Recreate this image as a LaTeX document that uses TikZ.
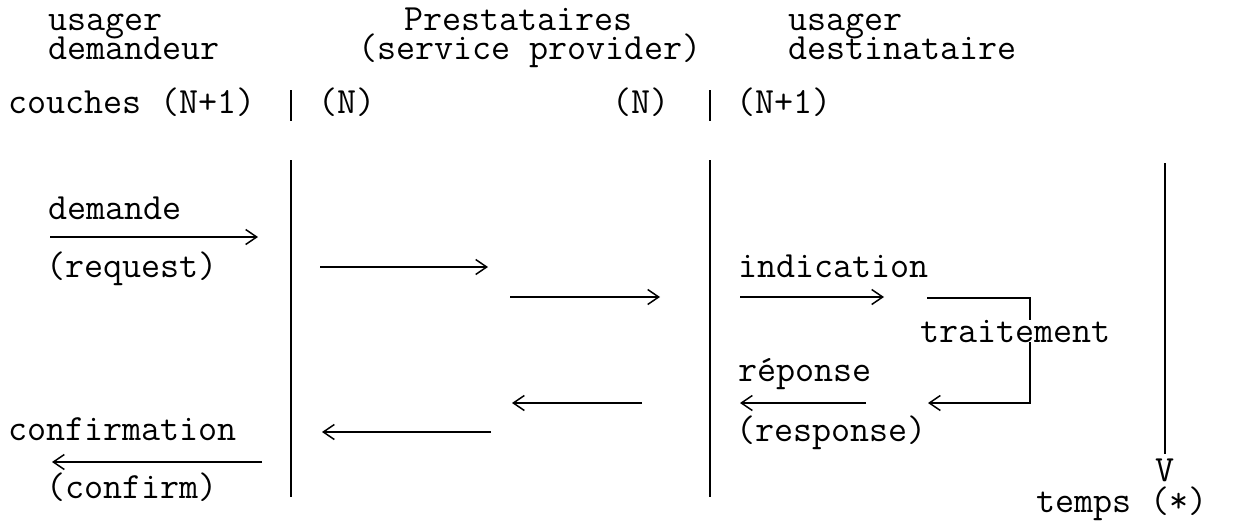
\documentclass[tikz,border=0pt]{standalone}
\usetikzlibrary{arrows.meta}
\begin{document}
\begin{tikzpicture}[x=1pt,y=-1pt,
  txt/.style={anchor=base west,inner sep=0pt,font=\ttfamily\fontsize{37}{40}\selectfont},
  ln/.style={line width=1.7pt},
  arr/.style={line width=1.4pt,-{Straight Barb[length=11pt,width=15pt,line width=1.5pt]}}]
\useasboundingbox (0,0) rectangle (1245,525);
% headers
\node[txt] (u1) at (48,30) {usager};
\node[txt] (u2) at (48,59) {demandeur};
\node[txt] (p1) at (404,30) {Prestataires};
\node[txt] (p2) at (358,59) {(service provider)};
\node[txt] (d1) at (788,30) {usager};
\node[txt] (d2) at (788,59) {destinataire};
% layers row
\node[txt] (c1) at (8,113) {couches (N+1)};
\node[txt] (n1) at (318,113) {(N)};
\node[txt] (n2) at (612,113) {(N)};
\node[txt] (n3) at (736,113) {(N+1)};
\coordinate (b1t) at (291,90); \coordinate (b1b) at (291,121);
\coordinate (b2t) at (710,90); \coordinate (b2b) at (710,121);
\draw[ln] (b1t) -- (b1b);
\draw[ln] (b2t) -- (b2b);
% vertical lines
\coordinate (v1t) at (291,160); \coordinate (v1b) at (291,497);
\coordinate (v2t) at (710,160); \coordinate (v2b) at (710,497);
\draw[ln] (v1t) -- (v1b);
\draw[ln] (v2t) -- (v2b);
% request
\node[txt] (dem) at (48,219) {demande};
\coordinate (a0s) at (50,237); \coordinate (a0e) at (258,237);
\draw[arr] (a0s) -- (a0e);
\node[txt] (req) at (46,277) {(request)};
\coordinate (a1s) at (320,267); \coordinate (a1e) at (488,267);
\draw[arr] (a1s) -- (a1e);
\coordinate (a2s) at (510,297); \coordinate (a2e) at (660,297);
\draw[arr] (a2s) -- (a2e);
% indication
\node[txt] (ind) at (738,277) {indication};
\coordinate (a3s) at (740,297); \coordinate (a3e) at (884,297);
\draw[arr] (a3s) -- (a3e);
% traitement bracket
\coordinate (t1) at (927,298); \coordinate (t2) at (1030,298);
\coordinate (t3) at (1030,403); \coordinate (t4) at (928,403);
\draw[arr] (t1) -- (t2) -- (t3) -- (t4);
\node[txt,fill=white] (trt) at (920,342) {traitement};
% response
\node[txt] (rep) at (738,381) {réponse};
\coordinate (a4s) at (866,403); \coordinate (a4e) at (740,403);
\draw[arr] (a4s) -- (a4e);
\node[txt] (resp) at (736,441) {(response)};
\coordinate (a5s) at (642,403); \coordinate (a5e) at (512,403);
\draw[arr] (a5s) -- (a5e);
\coordinate (a6s) at (491,432); \coordinate (a6e) at (322,432);
\draw[arr] (a6s) -- (a6e);
% confirm
\node[txt] (conf) at (8,440) {confirmation};
\coordinate (a7s) at (262,462); \coordinate (a7e) at (52,462);
\draw[arr] (a7s) -- (a7e);
\node[txt] (cfm) at (46,498) {(confirm)};
% time
\node[txt,anchor=base] (V) at (1165,481) {V};
\coordinate (tt) at (1165,163);
\draw[ln] (tt) -- ([yshift=4pt]V.north);
\node[txt] (tmp) at (1036,512) {temps (*)};
\end{tikzpicture}
\end{document}
